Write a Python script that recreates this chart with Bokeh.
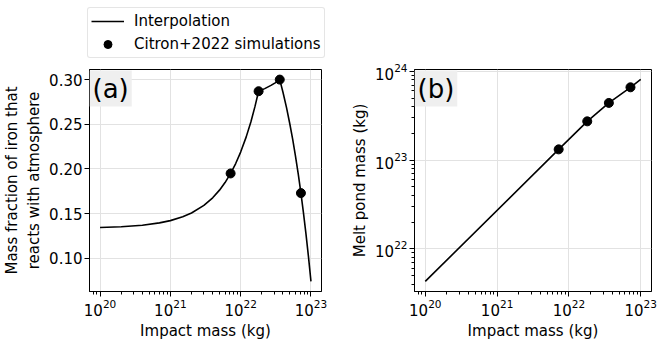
from bokeh.plotting import figure
from bokeh.layouts import row, column
from bokeh.models import (Legend, LegendItem, Label, SingleIntervalTicker,
                          PrintfTickFormatter, Range1d)
from bokeh.embed import file_html
from bokeh.resources import INLINE

# ---- data ----
impact_sim = [7.2e21, 1.8e22, 3.6e22, 7.2e22]
frac_sim = [0.195, 0.287, 0.300, 0.173]
melt_sim = [1.32e23, 2.73e23, 4.4e23, 6.6e23]

impact_curve_a = [1.0e20, 2.0e20, 4.0e20, 7.0e20, 1.0e21, 1.5e21, 2.0e21, 3.0e21,
                  4.0e21, 5.0e21, 6.0e21, 7.2e21, 8.5e21, 1.0e22, 1.2e22, 1.4e22,
                  1.6e22, 1.8e22, 2.2e22, 2.7e22, 3.1e22, 3.6e22, 4.0e22, 4.5e22,
                  5.0e22, 5.5e22, 6.0e22, 6.6e22, 7.2e22, 7.8e22, 8.5e22, 9.2e22,
                  1.0e23]
frac_curve_a = [0.1345, 0.1353, 0.1371, 0.1397, 0.1422, 0.1465, 0.1507, 0.1592,
                0.1677, 0.1763, 0.1848, 0.1950, 0.2061, 0.2189, 0.2359, 0.2529,
                0.2700, 0.2870, 0.2899, 0.2935, 0.2964, 0.3000, 0.2859, 0.2683,
                0.2506, 0.2330, 0.2153, 0.1942, 0.1730, 0.1518, 0.1271, 0.1024,
                0.0742]

impact_curve_b = [1.0e20, 7.2e21, 1.8e22, 3.6e22, 7.2e22, 1.0e23]
melt_curve_b = [4.3e21, 1.32e23, 2.73e23, 4.4e23, 6.6e23, 8.1e23]

legend_labels = ["Interpolation", "Citron+2022 simulations"]

FONT = "DejaVu Sans"
FS = "15px"
FH = 225      # frame height
FT = 69       # frame top (page)
FB = 48       # bottom border
LH = 62       # height of legend strip
H = FT + FH + FB - LH


def style(p):
    for ax in p.axis:
        ax.major_label_text_font = FONT
        ax.major_label_text_font_size = FS
        ax.major_label_text_color = "black"
        ax.axis_label_text_font = FONT
        ax.axis_label_text_font_size = FS
        ax.axis_label_text_font_style = "normal"
        ax.axis_label_text_color = "black"
        ax.major_tick_out = 5
        ax.major_tick_in = 0
        ax.minor_tick_out = 3
        ax.minor_tick_in = 0
        ax.axis_line_color = "black"
        ax.major_tick_line_color = "black"
        ax.minor_tick_line_color = "black"
        ax.major_label_standoff = 2
        ax.axis_label_standoff = 3
    p.outline_line_color = "black"
    p.outline_line_alpha = 1.0
    p.grid.grid_line_color = "#e2e2e2"
    p.background_fill_color = "white"
    p.border_fill_color = "white"


# ---- legend strip (same series, kept out of its own view) ----
pl = figure(width=664, height=LH, x_axis_type="log",
            x_range=Range1d(10 ** 19.85, 10 ** 23.15), y_range=Range1d(5, 6),
            x_axis_location=None, y_axis_location=None,
            output_backend="svg", toolbar_location=None,
            min_border_left=0, min_border_right=0,
            min_border_top=0, min_border_bottom=0)
pl.grid.visible = False
pl.outline_line_color = None
pl.background_fill_color = "white"
pl.border_fill_color = "white"
dl = pl.line(impact_curve_a, frac_curve_a, line_color="black", line_width=1.6)
ds = pl.scatter(impact_sim, frac_sim, size=9, fill_color="black", line_color="black")

legend = Legend(items=[LegendItem(label=legend_labels[0], renderers=[dl]),
                       LegendItem(label=legend_labels[1], renderers=[ds])],
                location=(87, 4), orientation="vertical")
legend.label_text_font = FONT
legend.label_text_font_size = FS
legend.label_text_color = "black"
legend.glyph_width = 33
legend.glyph_height = 20
legend.label_height = 20
legend.label_standoff = 10
legend.spacing = 3
legend.padding = 3
legend.margin = 0
legend.border_line_color = "#cccccc"
legend.border_line_width = 1
legend.background_fill_color = "white"
legend.background_fill_alpha = 1.0
if "border_radius" in Legend.properties():
    legend.border_radius = 3
pl.add_layout(legend)

# ---- panel (a) ----
p1 = figure(width=330, height=H, x_axis_type="log",
            x_range=Range1d(10 ** 19.85, 10 ** 23.15),
            y_range=Range1d(0.0629, 0.3113),
            output_backend="svg", toolbar_location=None,
            min_border_left=84, min_border_right=9,
            min_border_top=FT - LH, min_border_bottom=FB)
p1.line(impact_curve_a, frac_curve_a, line_color="black", line_width=1.6)
p1.scatter(impact_sim, frac_sim, size=9, fill_color="black", line_color="black")
p1.xaxis.axis_label = "Impact mass (kg)"
p1.yaxis.axis_label = "Mass fraction of iron that\nreacts with atmosphere"
p1.yaxis.ticker = SingleIntervalTicker(interval=0.05, num_minor_ticks=0)
p1.yaxis.formatter = PrintfTickFormatter(format="%.2f")
style(p1)
p1.yaxis.minor_tick_line_color = None

lab_a = Label(x=0, y=FH - 4, x_units="screen", y_units="screen", text="(a)",
              text_font=FONT, text_font_size="26px", text_color="black",
              text_align="left", text_baseline="top",
              background_fill_color="#efefef", background_fill_alpha=1.0)
if "padding" in Label.properties():
    lab_a.padding = 3
p1.add_layout(lab_a)

# ---- panel (b) ----
p2 = figure(width=334, height=H, x_axis_type="log", y_axis_type="log",
            x_range=Range1d(10 ** 19.85, 10 ** 23.15),
            y_range=Range1d(10 ** 21.52, 10 ** 24.02),
            output_backend="svg", toolbar_location=None,
            min_border_left=84, min_border_right=13,
            min_border_top=FT - LH, min_border_bottom=FB)
p2.line(impact_curve_b, melt_curve_b, line_color="black", line_width=1.6)
p2.scatter(impact_sim, melt_sim, size=9, fill_color="black", line_color="black")
p2.xaxis.axis_label = "Impact mass (kg)"
p2.yaxis.axis_label = "Melt pond mass (kg)"
style(p2)

lab_b = Label(x=0, y=FH - 4, x_units="screen", y_units="screen", text="(b)",
              text_font=FONT, text_font_size="26px", text_color="black",
              text_align="left", text_baseline="top",
              background_fill_color="#efefef", background_fill_alpha=1.0)
if "padding" in Label.properties():
    lab_b.padding = 3
p2.add_layout(lab_b)

layout = column(pl, row(p1, p2))
open("out.html", "w").write(file_html(layout, INLINE))
